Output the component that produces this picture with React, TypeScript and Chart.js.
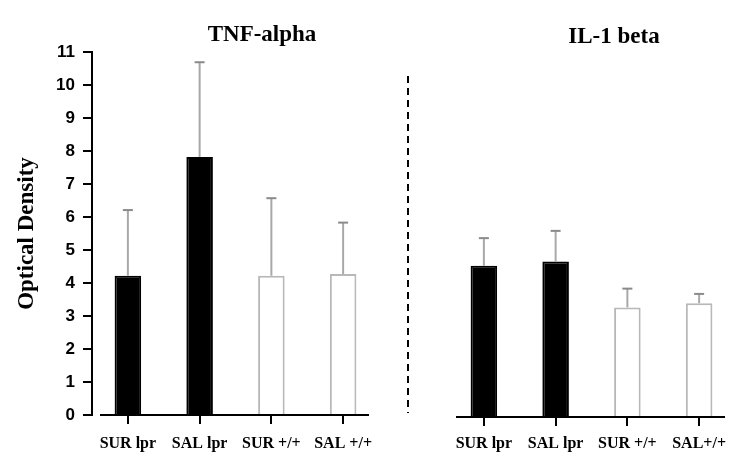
import React, { useEffect, useRef } from "react";
import { Chart, registerables } from "chart.js";

Chart.register(...registerables);

const tnfCategories = ["SUR lpr", "SAL lpr", "SUR +/+", "SAL +/+"];
const tnfValues = [4.22, 7.82, 4.22, 4.27];
const tnfErrors = [1.99, 2.87, 2.35, 1.56];

const ilCategories = ["SUR lpr", "SAL lpr", "SUR +/+", "SAL+/+"];
const ilValues = [4.58, 4.71, 3.32, 3.45];
const ilErrors = [0.84, 0.93, 0.57, 0.28];

const yTicks = [0, 1, 2, 3, 4, 5, 6, 7, 8, 9, 10, 11];

const barFill = ["#000000", "#000000", "#ffffff", "#ffffff"];
const barBorder = ["#000000", "#000000", "#b8b8b8", "#b8b8b8"];

const SERIF = "'Liberation Serif', 'Times New Roman', serif";
const SANS = "'Liberation Sans', Arial, sans-serif";

const errorBarPlugin = {
  id: "errorBars",
  afterDatasetsDraw(chart: any, _args: any, opts: any) {
    const errs: number[] = opts.errors || [];
    const vals: number[] = chart.data.datasets[0].data;
    const meta = chart.getDatasetMeta(0);
    const ys = chart.scales.y;
    const ctx = chart.ctx;
    ctx.save();
    meta.data.forEach((el: any, i: number) => {
      const top = ys.getPixelForValue(vals[i] + errs[i]);
      ctx.strokeStyle = "#a8a8a8";
      ctx.lineWidth = 2;
      ctx.beginPath();
      ctx.moveTo(el.x, el.y);
      ctx.lineTo(el.x, top);
      ctx.stroke();
      ctx.strokeStyle = "#8a8a8a";
      ctx.beginPath();
      ctx.moveTo(el.x - 5, top);
      ctx.lineTo(el.x + 5, top);
      ctx.stroke();
    });
    ctx.restore();
  },
};

const decorPlugin = {
  id: "decor",
  afterDraw(chart: any, _args: any, opts: any) {
    const ctx = chart.ctx;
    const ca = chart.chartArea;
    ctx.save();
    // x axis baseline
    ctx.strokeStyle = "#000";
    ctx.lineWidth = 2;
    ctx.beginPath();
    ctx.moveTo(ca.left + 8, ca.bottom);
    ctx.lineTo(ca.right - 10, ca.bottom);
    ctx.stroke();
    // panel title
    ctx.fillStyle = "#000";
    ctx.font = `bold 23px ${SERIF}`;
    ctx.textAlign = "center";
    ctx.textBaseline = "middle";
    ctx.fillText(opts.title, opts.titleX, opts.titleY);
    // divider
    if (opts.divider) {
      ctx.setLineDash([7, 5]);
      ctx.lineWidth = 2;
      ctx.beginPath();
      ctx.moveTo(opts.divider.x, opts.divider.y0);
      ctx.lineTo(opts.divider.x, opts.divider.y1);
      ctx.stroke();
    }
    ctx.restore();
  },
};

function makeConfig(
  categories: string[],
  values: number[],
  errors: number[],
  showY: boolean,
  yWidth: number,
  padding: any,
  xHeight: number,
  xPad: number,
  decor: any
): any {
  return {
    type: "bar",
    data: {
      labels: categories,
      datasets: [
        {
          data: values,
          backgroundColor: barFill,
          borderColor: barBorder,
          borderWidth: 2,
          borderSkipped: "start",
          categoryPercentage: 1,
          barPercentage: 0.37,
        },
      ],
    },
    options: {
      responsive: false,
      animation: false,
      layout: { padding },
      plugins: {
        legend: { display: false },
        tooltip: { enabled: false },
        title: { display: false },
        errorBars: { errors },
        decor,
      },
      scales: {
        x: {
          offset: true,
          grid: {
            offset: false,
            drawOnChartArea: false,
            drawTicks: true,
            tickLength: 9,
            color: "#000",
            lineWidth: 2,
          },
          border: { display: false },
          ticks: {
            color: "#000",
            padding: xPad,
            font: { family: SERIF, size: 16, weight: "bold" },
            maxRotation: 0,
            autoSkip: false,
          },
          afterFit: (s: any) => {
            s.height = xHeight;
          },
        },
        y: {
          display: true,
          min: 0,
          max: 11,
          afterBuildTicks: (s: any) => {
            s.ticks = yTicks.map((v) => ({ value: v }));
          },
          grid: {
            display: showY,
            drawOnChartArea: false,
            drawTicks: true,
            tickLength: 9,
            color: "#000",
            lineWidth: 2,
          },
          border: { display: showY, color: "#000", width: 2 },
          ticks: {
            display: showY,
            color: "#000",
            padding: 8,
            font: { family: SANS, size: 17, weight: "bold" },
          },
          title: {
            display: showY,
            text: "Optical Density",
            color: "#000",
            font: { family: SERIF, size: 23, weight: "bold" },
            padding: { top: 13, bottom: 0 },
          },
          afterFit: (s: any) => {
            s.width = yWidth;
          },
        },
      },
    },
    plugins: [errorBarPlugin, decorPlugin],
  };
}

export default function App() {
  const leftRef = useRef<HTMLCanvasElement>(null);
  const rightRef = useRef<HTMLCanvasElement>(null);

  useEffect(() => {
    const left = new Chart(
      leftRef.current as HTMLCanvasElement,
      makeConfig(
        tnfCategories,
        tnfValues,
        tnfErrors,
        true,
        92,
        { left: 0, top: 52, right: 21, bottom: 0 },
        53,
        10,
        { title: "TNF-alpha", titleX: 262, titleY: 35 }
      )
    );
    const right = new Chart(
      rightRef.current as HTMLCanvasElement,
      makeConfig(
        ilCategories,
        ilValues,
        ilErrors,
        false,
        48,
        { left: 0, top: 54, right: 15, bottom: 0 },
        51,
        8,
        {
          title: "IL-1 beta",
          titleX: 214,
          titleY: 37,
          divider: { x: 8, y0: 76, y1: 413 },
        }
      )
    );
    return () => {
      left.destroy();
      right.destroy();
    };
  }, []);

  return (
    <div
      style={{
        position: "fixed",
        left: 0,
        top: 0,
        width: 750,
        height: 468,
        background: "#fff",
      }}
    >
      <canvas
        ref={leftRef}
        width={400}
        height={468}
        style={{ position: "absolute", left: 0, top: 0, width: 400, height: 468 }}
      />
      <canvas
        ref={rightRef}
        width={350}
        height={468}
        style={{ position: "absolute", left: 400, top: 0, width: 350, height: 468 }}
      />
    </div>
  );
}
